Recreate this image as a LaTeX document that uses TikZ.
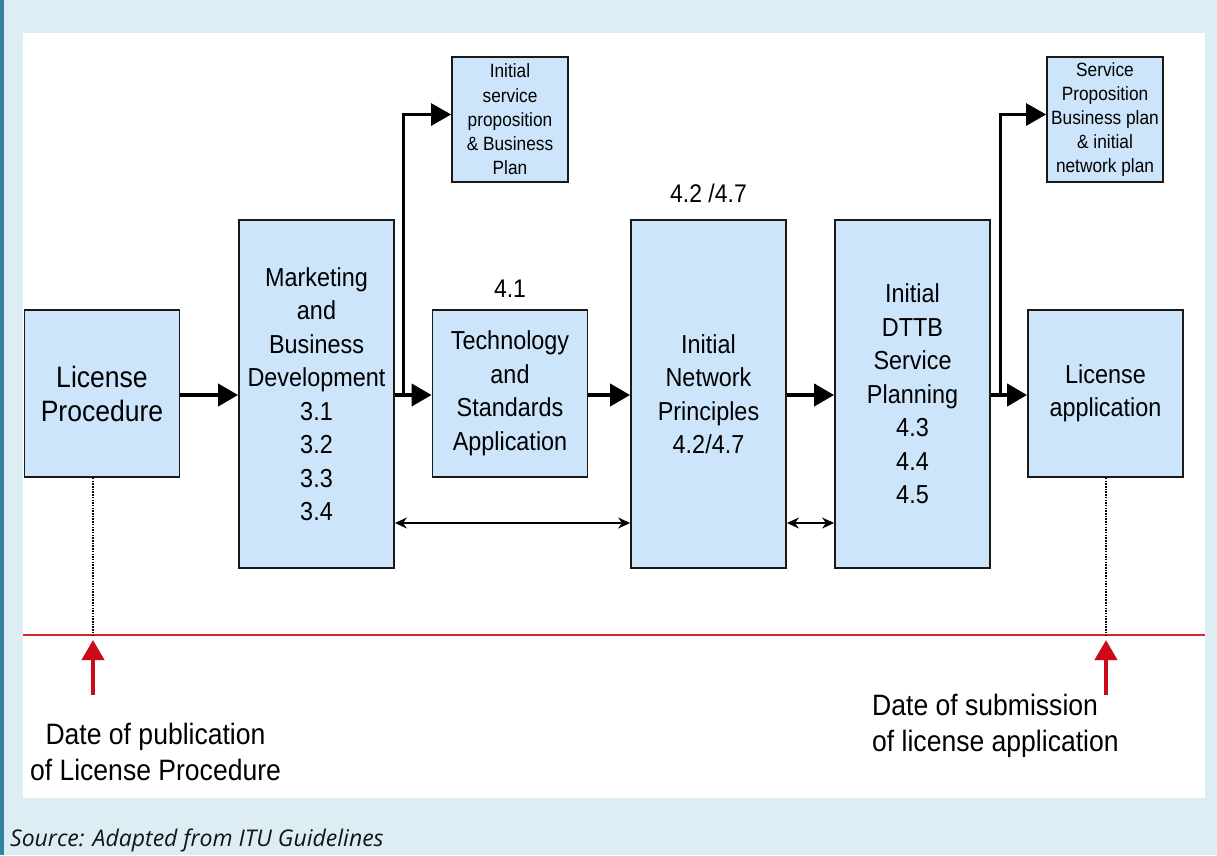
\documentclass[tikz,border=0pt]{standalone}
\usepackage{fontspec}
\setmainfont[FakeStretch=0.9]{Liberation Sans}
\newfontfamily\sourcefont{Open Sans}
\usepackage{xcolor}
\usetikzlibrary{arrows.meta, positioning}
\definecolor{pageblue}{HTML}{DCEEF4}
\definecolor{stripblue}{HTML}{31839E}
\definecolor{boxfill}{HTML}{CCE5FA}
\definecolor{linered}{HTML}{D8262D}
\definecolor{markred}{HTML}{CC0A1A}
\tikzset{
    stage/.style={rectangle, draw=black!90, fill=boxfill, line width=1.8pt, minimum width=155pt, inner sep=0pt, align=center, font=\fontsize{26}{33.5}\selectfont},
    tall/.style={stage, minimum height=348pt},
    short/.style={stage, minimum height=167pt},
    outcome/.style={rectangle, draw=black!90, fill=boxfill, line width=1.8pt, minimum width=116pt, minimum height=125pt, inner sep=0pt, align=center, font=\fontsize{19.2}{24.2}\selectfont},
    numlabel/.style={inner sep=0pt, font=\fontsize{25.5}{30}\selectfont},
    flow/.style={line width=4pt, -{Triangle[length=20pt,width=22pt]}},
    branch/.style={line width=3pt, -{Triangle[length=20pt,width=22pt]}},
    link/.style={line width=1.5pt, {Stealth[length=12pt,width=11pt]}-{Stealth[length=12pt,width=11pt]}},
    guide/.style={line width=2pt, dash pattern=on 1.5pt off 1.2pt},
    marker/.style={draw=markred, line width=4pt, -{Triangle[length=20pt,width=22pt]}},
    datetext/.style={inner sep=0pt, font=\fontsize{29.5}{35.5}\selectfont}
}

\begin{document}
\begin{tikzpicture}[x=1pt, y=-1pt]
            % Page and panel
            \fill[pageblue] (0,0) rectangle (1217,855);
            \fill[stripblue] (0,0) rectangle (4,855);
            \fill[white] (23,33) rectangle (1205,798);

            % Process stages
            \node[short, font=\fontsize{29.5}{34}\selectfont] (lic) at (102,393.5) {License\\Procedure};
            \node[tall] (mkt) at (316.5,394) {Marketing\\and\\Business\\Development\\3.1\\3.2\\3.3\\3.4};
            \node[short] (tech) at (510,393.5) {Technology\\and\\Standards\\Application};
            \node[tall] (net) at (708.5,394) {Initial\\Network\\Principles\\4.2/4.7};
            \node[tall] (dttb) at (912.5,394) {Initial\\DTTB\\Service\\Planning\\4.3\\4.4\\4.5};
            \node[short] (app) at (1105.5,393.5) {License\\application};

            % Outputs
            \node[outcome] (isp) at (510,119.5) {Initial\\service\\proposition\\\& Business\\Plan};
            \node[outcome] (spb) at (1105,119.5) {Service\\Proposition\\Business plan\\\& initial\\network plan};

            % Section numbers
            \node[numlabel, above=11pt of tech] (techno) {4.1};
            \node[numlabel, above=16pt of net] (netno) {4.2 /4.7};

            % Main flow
            \draw[flow] ([yshift=-1.5pt]lic.east) -- ([yshift=-1pt]mkt.west);
            \draw[flow] ([yshift=-1pt]mkt.east) -- ([yshift=-1.5pt]tech.west);
            \draw[flow] ([yshift=-1.5pt]tech.east) -- ([yshift=-1pt]net.west);
            \draw[flow] ([yshift=-1pt]net.east) -- ([yshift=-1pt]dttb.west);
            \draw[flow] ([yshift=-1pt]dttb.east) -- ([yshift=-1.5pt]app.west);
            \draw[branch] ([xshift=9pt,yshift=-1pt]mkt.east) |- ([yshift=5pt]isp.west);
            \draw[branch] ([xshift=10pt,yshift=-1pt]dttb.east) |- ([yshift=5pt]spb.west);

            % Feedback
            \draw[link] ([yshift=-129pt]mkt.east) -- ([yshift=-129pt]net.west);
            \draw[link] ([yshift=-129pt]net.east) -- ([yshift=-129pt]dttb.west);

            % Time line
            \coordinate (pub) at (93,635);
            \coordinate (sub) at (1106,635);
            \coordinate (pubfoot) at (93,695);
            \coordinate (subfoot) at (1106,695);
            \draw[linered, line width=2pt] (23,635) -- (1205,635);
            \draw[guide] (pub |- lic.south) -- (pub);
            \draw[guide] (sub |- app.south) -- (sub);
            \draw[marker] (pubfoot) -- ([yshift=-5pt]pub);
            \draw[marker] (subfoot) -- ([yshift=-5pt]sub);
            \node[datetext, align=center] (pubtext) at (155.5,752) {Date of publication\\of License Procedure};
            \node[datetext, align=left, anchor=west] (subtext) at (872,726) {Date of submission\\of license application};

            % Source
            \node[anchor=west, inner sep=0pt, text=black!92, font=\sourcefont\itshape\fontsize{23}{27}\selectfont] (src) at (10,840) {Source: Adapted from ITU Guidelines};
        \end{tikzpicture}
\end{document}
